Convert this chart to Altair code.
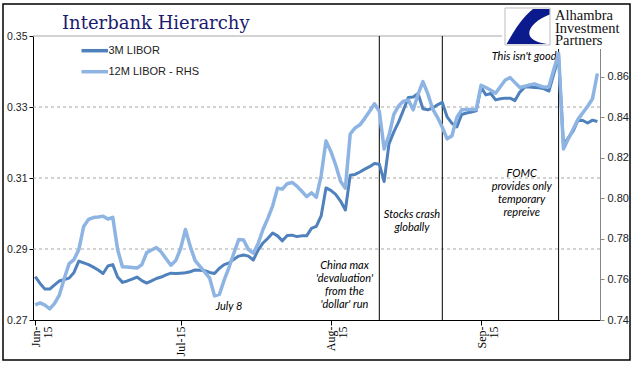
import altair as alt
import pandas as pd

# ---------------- data ----------------
dates = pd.date_range("2015-06-01", "2015-09-25", freq="D").strftime("%Y-%m-%d").tolist()

libor_3m = [
    0.2822, 0.2803, 0.2787, 0.2787, 0.2799, 0.2810, 0.2814, 0.2818, 0.2834, 0.2866,
    0.2861, 0.2856, 0.2849, 0.2841, 0.2831, 0.2852, 0.2856, 0.2821, 0.2806, 0.2810,
    0.2815, 0.2821, 0.2811, 0.2804, 0.2810, 0.2817, 0.2821, 0.2827, 0.2832, 0.2831,
    0.2832, 0.2833, 0.2836, 0.2841, 0.2840, 0.2839, 0.2834, 0.2831, 0.2846, 0.2856,
    0.2861, 0.2871, 0.2880, 0.2883, 0.2880, 0.2869, 0.2897, 0.2917, 0.2930, 0.2945,
    0.2937, 0.2923, 0.2938, 0.2939, 0.2935, 0.2937, 0.2937, 0.2958, 0.2964, 0.2993,
    0.3072, 0.3065, 0.3054, 0.3035, 0.3010, 0.3108, 0.3110, 0.3117, 0.3125, 0.3132,
    0.3141, 0.3139, 0.3090, 0.3196, 0.3230, 0.3258, 0.3292, 0.3327, 0.3328, 0.3338,
    0.3295, 0.3292, 0.3297, 0.3306, 0.3313, 0.3272, 0.3254, 0.3244, 0.3279, 0.3283,
    0.3286, 0.3289, 0.3356, 0.3334, 0.3338, 0.3320, 0.3323, 0.3325, 0.3325, 0.3318,
    0.3342, 0.3356, 0.3356, 0.3355, 0.3354, 0.3351, 0.3345, 0.3393, 0.3442, 0.3193,
    0.3213, 0.3232, 0.3263, 0.3262, 0.3255, 0.3263, 0.3259,
]

libor_12m = [
    0.7474, 0.7484, 0.7473, 0.7455, 0.7482, 0.7524, 0.7606, 0.7678, 0.7698, 0.7747,
    0.7861, 0.7896, 0.7905, 0.7908, 0.7912, 0.7898, 0.7906, 0.7747, 0.7663, 0.7661,
    0.7659, 0.7656, 0.7673, 0.7732, 0.7745, 0.7757, 0.7735, 0.7702, 0.7670, 0.7693,
    0.7752, 0.7846, 0.7762, 0.7693, 0.7664, 0.7636, 0.7606, 0.7519, 0.7526, 0.7598,
    0.7660, 0.7730, 0.7797, 0.7794, 0.7747, 0.7730, 0.7777, 0.7846, 0.7901, 0.7963,
    0.8050, 0.8045, 0.8072, 0.8078, 0.8060, 0.8035, 0.8008, 0.8027, 0.8005, 0.8112,
    0.8283, 0.8231, 0.8164, 0.8084, 0.8050, 0.8317, 0.8347, 0.8362, 0.8394, 0.8429,
    0.8466, 0.8429, 0.8243, 0.8310, 0.8414, 0.8456, 0.8479, 0.8484, 0.8436, 0.8513,
    0.8575, 0.8516, 0.8441, 0.8399, 0.8350, 0.8293, 0.8308, 0.8399, 0.8436, 0.8438,
    0.8438, 0.8438, 0.8557, 0.8546, 0.8533, 0.8518, 0.8551, 0.8583, 0.8595, 0.8570,
    0.8546, 0.8552, 0.8559, 0.8564, 0.8555, 0.8548, 0.8550, 0.8635, 0.8714, 0.8243,
    0.8293, 0.8340, 0.8389, 0.8422, 0.8454, 0.8491, 0.8615,
]

event_dates = ["2015-08-11", "2015-08-24", "2015-09-17"]
left_ticks = [0.27, 0.29, 0.31, 0.33, 0.35]
left_dashed_grid = [0.29, 0.31, 0.33]
left_top_grid = [0.35]
right_ticks = [0.74, 0.76, 0.78, 0.80, 0.82, 0.84, 0.86]
tick_months = [6, 7, 8, 9]

series_names = ["3M LIBOR", "12M LIBOR - RHS"]
series_colors = ["#4F81BD", "#8DB4E2"]

df = pd.DataFrame({"date": dates, "m3": libor_3m, "m12": libor_12m})
ev = pd.DataFrame({"d": event_dates})
one = pd.DataFrame({"k": [0]})

# ---------------- layout ----------------
W, H = 567, 284
SANS = "Liberation Sans"
ITAL = "Lato"

x_scale = alt.Scale(
    type="utc",
    domain=[alt.DateTime(year=2015, month=5, date=31, hours=13, utc=True),
            alt.DateTime(year=2015, month=9, date=25, hours=13, utc=True)],
)
y_left = alt.Scale(domain=[0.27, 0.35], nice=False, zero=False)
y_right = alt.Scale(domain=[0.74, 0.88], nice=False, zero=False)

x_axis = alt.Axis(
    values=[alt.DateTime(year=2015, month=m, date=1, utc=True) for m in tick_months],
    labelExpr="utcmonth(datum.value) == 6 ? 'Jul-15' : [utcFormat(datum.value, '%b') + '-', '15']",
    labelAngle=-90, labelFont="Liberation Serif", labelFontSize=12, labelColor="black",
    labelPadding=1, tickSize=5, tickColor="black", domainColor="black",
    grid=False, title=None, labelLineHeight=12,
)
y_left_axis = alt.Axis(
    values=left_ticks, format=".2f", grid=False, title=None,
    domainColor="black", tickColor="black", tickSize=4,
    labelFont=SANS, labelFontSize=10.5, labelColor="#222", labelPadding=2,
)
y_right_axis = alt.Axis(
    orient="right", values=right_ticks, format=".2f", grid=False, title=None,
    domainColor="#868686", tickColor="#868686", tickSize=4,
    labelFont=SANS, labelFontSize=11, labelColor="#222", labelPadding=3,
)

grid = alt.Chart(pd.DataFrame({"v": left_dashed_grid})).mark_rule(
    color="#A6A6A6", strokeWidth=1, strokeDash=[3, 3]
).encode(y=alt.Y("v:Q", scale=y_left, axis=y_left_axis))

top_grid = alt.Chart(pd.DataFrame({"v": left_top_grid})).mark_rule(
    color="#A6A6A6", strokeWidth=1
).encode(y=alt.Y("v:Q", scale=y_left, axis=y_left_axis))

events = alt.Chart(ev).mark_rule(color="black", strokeWidth=1).encode(
    x=alt.X("d:T", scale=x_scale, axis=x_axis)
)

line3 = alt.Chart(df).mark_line(
    color=series_colors[0], strokeWidth=3, strokeJoin="round"
).encode(
    x=alt.X("date:T", scale=x_scale, axis=x_axis),
    y=alt.Y("m3:Q", scale=y_left, axis=y_left_axis),
)

line12 = alt.Chart(df).mark_line(
    color=series_colors[1], strokeWidth=3.5, strokeJoin="round"
).encode(
    x=alt.X("date:T", scale=x_scale, axis=x_axis),
    y=alt.Y("m12:Q", scale=y_right, axis=y_right_axis),
)


def note(text, x, y, align="center", lh=13):
    # y is the middle of the first line
    return alt.Chart(one).mark_text(
        text=text, lineBreak="\n", font=ITAL, fontStyle="italic", fontSize=11,
        color="black", align=align, baseline="middle", lineHeight=lh,
    ).encode(x=alt.value(x), y=alt.value(y))


notes = [
    note("July 8", 196, 271),
    note("China max\n'devaluation'\nfrom the\n'dollar' run", 311.5, 229.5, lh=13),
    note("Stocks crash\nglobally", 379, 178.5, lh=13.5),
    note("FOMC\nprovides only\ntemporary\nrepreive", 488.7, 137.5, lh=13.2),
    note("This isn't good", 523.5, 20.7, align="right"),
]

# legend (drawn by hand, Excel style)
legend = []
for i, (name, col) in enumerate(zip(series_names, series_colors)):
    yy = 14.7 + 21 * i
    legend.append(alt.Chart(one).mark_rule(color=col, strokeWidth=3.5).encode(
        x=alt.value(48.5), x2=alt.value(75), y=alt.value(yy)))
    legend.append(alt.Chart(one).mark_text(
        text=name, font=SANS, fontSize=11, color="#222", align="left", baseline="middle"
    ).encode(x=alt.value(75.5), y=alt.value(yy)))

title = alt.Chart(one).mark_text(
    text="Interbank Hierarchy", font="DejaVu Serif", fontSize=18, color="#1B1B6E",
    align="left", baseline="alphabetic",
).encode(x=alt.value(29), y=alt.value(-7))

# logo block (top right) and outer frame
logo_bg = alt.Chart(one).mark_rect(color="white").encode(
    x=alt.value(469), x2=alt.value(596), y=alt.value(-32), y2=alt.value(13))
logo_box = alt.Chart(one).mark_rect(fillOpacity=0, stroke="#BDBDBD", strokeWidth=1).encode(
    x=alt.value(472), x2=alt.value(517), y=alt.value(-28), y2=alt.value(9))
logo_mark = alt.Chart(one).mark_point(
    shape="M 0.25 -0.8 L 1 -0.8 L 1 -0.55 C 0.35 -0.3 -0.05 0.15 0.12 0.45 C 0.3 0.7 0.7 0.78 1 0.8 "
          "L -0.95 0.8 C -0.6 0.15 -0.2 -0.45 0.25 -0.8 Z",
    filled=True, color="#0B1A8C", opacity=1, size=1936, strokeWidth=0,
).encode(x=alt.value(494.5), y=alt.value(-9.5))
logo_lines = ["Alhambra", "Investment", "Partners"]
logo_text = [
    alt.Chart(one).mark_text(
        text=t, font="Liberation Serif", fontSize=14.5, color="#111111",
        align="left", baseline="alphabetic",
    ).encode(x=alt.value(522), y=alt.value(-16 + 12.5 * i))
    for i, t in enumerate(logo_lines)
]
frame = alt.Chart(one).mark_rect(fillOpacity=0, stroke="black", strokeWidth=1.5).encode(
    x=alt.value(-30), x2=alt.value(597), y=alt.value(-32), y2=alt.value(324))

left = alt.layer(grid, top_grid, events, line3, *notes, *legend, title)
right = alt.layer(line12)
deco = alt.layer(logo_bg, logo_box, logo_mark, *logo_text, frame)

chart = alt.layer(left, right, deco).resolve_scale(y="independent").properties(
    width=W, height=H,
    padding={"left": 33, "top": 36, "right": 41, "bottom": 55},
    autosize=alt.AutoSizeParams(type="none"),
    background="white",
).configure_view(stroke=None)

chart.save("out.html", embed_options={"renderer": "svg", "actions": False})
